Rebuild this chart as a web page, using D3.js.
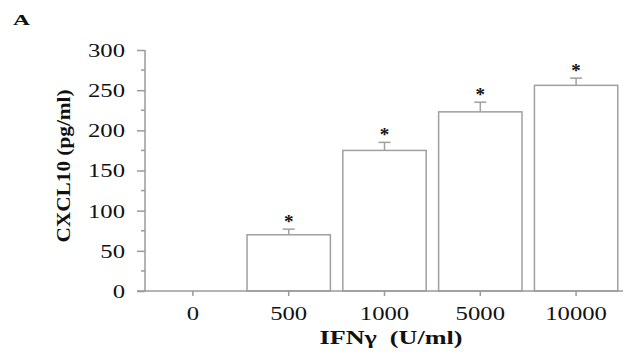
<!DOCTYPE html>
<html>
<head>
<meta charset="utf-8">
<script src="https://cdn.jsdelivr.net/npm/d3@7"></script>
<style>
  body { margin: 0; background: #fff; }
  text { font-family: 'Liberation Serif', 'DejaVu Serif', serif; fill: #111; }
</style>
</head>
<body>
<div id="chart"></div>
<script>
const doses = ['0', '500', '1000', '5000', '10000']
const cxcl10 = [0, 70, 175, 223, 256]
const errorTop = [0, 77, 185, 235, 265]
const significant = [false, true, true, true, true]
const yTicks = [0, 50, 100, 150, 200, 250, 300]

const W = 624
const H = 358
const MARGIN = { left: 145, right: 0, top: 50, bottom: 67 }
const STRETCH = 1.3 // the source figure is stretched sideways

const svg = d3.select('#chart').append('svg')
  .attr('width', W)
  .attr('height', H)

const x = d3.scaleBand()
  .domain(doses)
  .range([MARGIN.left, W - MARGIN.right])
  .paddingInner(0.13)
  .paddingOuter(0.065)

const y = d3.scaleLinear()
  .domain([0, 300])
  .range([H - MARGIN.bottom, MARGIN.top])

const axisColor = '#9a9a9a'

// Panel letter
svg.append('text')
  .attr('x', 13).attr('y', 25)
  .attr('font-size', 15).attr('font-weight', 'bold')
  .attr('textLength', 17).attr('lengthAdjust', 'spacingAndGlyphs')
  .text('A')

// Bars
svg.selectAll('rect.bar')
  .data(doses)
  .join('rect')
  .attr('class', 'bar')
  .attr('x', d => x(d))
  .attr('width', x.bandwidth())
  .attr('y', (d, i) => y(cxcl10[i]))
  .attr('height', (d, i) => y(0) - y(cxcl10[i]))
  .attr('fill', '#fff')
  .attr('stroke', '#a0a0a0')
  .attr('stroke-width', 1.5)

// Error bars (upper only)
const err = svg.selectAll('g.err')
  .data(doses.filter((d, i) => cxcl10[i] > 0))
  .join('g')
  .attr('class', 'err')
  .attr('stroke', '#a0a0a0')
  .attr('stroke-width', 1.5)
err.append('line')
  .attr('x1', d => x(d) + x.bandwidth() / 2)
  .attr('x2', d => x(d) + x.bandwidth() / 2)
  .attr('y1', d => y(cxcl10[doses.indexOf(d)]))
  .attr('y2', d => y(errorTop[doses.indexOf(d)]))
err.append('line')
  .attr('x1', d => x(d) + x.bandwidth() / 2 - 6)
  .attr('x2', d => x(d) + x.bandwidth() / 2 + 6)
  .attr('y1', d => y(errorTop[doses.indexOf(d)]))
  .attr('y2', d => y(errorTop[doses.indexOf(d)]))

// Asterisks
svg.selectAll('text.star')
  .data(doses.filter((d, i) => significant[i]))
  .join('text')
  .attr('class', 'star')
  .attr('x', d => x(d) + x.bandwidth() / 2)
  .attr('y', d => y(errorTop[doses.indexOf(d)]) - 1)
  .attr('text-anchor', 'middle')
  .attr('font-size', 19)
  .attr('font-weight', 'bold')
  .text('*')

// Y axis
const yAxis = svg.append('g')
  .attr('transform', `translate(${MARGIN.left},0)`)
  .call(d3.axisLeft(y).tickValues(yTicks).tickSize(8).tickPadding(12))
yAxis.select('.domain').attr('stroke', axisColor).attr('stroke-width', 1.5)
  .attr('d', `M0,${y(300)}V${y(0)}`)
yAxis.selectAll('.tick line').attr('stroke', axisColor).attr('stroke-width', 1.5)
yAxis.selectAll('.tick text')
  .attr('font-size', 19)
  .attr('font-family', "'Liberation Serif', serif")
  .attr('fill', '#111')
  .attr('transform', `scale(${STRETCH},1)`)
  .attr('x', -20 / STRETCH)
  .attr('dy', '0.34em')

// minor ticks
svg.append('g')
  .selectAll('line')
  .data(d3.range(25, 300, 50))
  .join('line')
  .attr('x1', MARGIN.left - 4)
  .attr('x2', MARGIN.left)
  .attr('y1', d => y(d))
  .attr('y2', d => y(d))
  .attr('stroke', axisColor)
  .attr('stroke-width', 1.5)

// X axis
const xAxis = svg.append('g')
  .attr('transform', `translate(0,${y(0)})`)
  .call(d3.axisBottom(x).tickSize(5).tickPadding(11))
xAxis.select('.domain').attr('stroke', axisColor).attr('stroke-width', 1.5)
  .attr('d', `M${MARGIN.left - 8},0H${W - 1}`)
xAxis.selectAll('.tick line').attr('stroke', axisColor).attr('stroke-width', 1.5)
xAxis.selectAll('.tick text')
  .attr('font-size', 19)
  .attr('font-family', "'Liberation Serif', serif")
  .attr('fill', '#111')
  .attr('transform', `scale(${STRETCH},1)`)
  .attr('dy', '0.71em')

// Axis titles
svg.append('text')
  .attr('transform', 'translate(70,166) rotate(-90)')
  .attr('text-anchor', 'middle')
  .attr('font-size', 18)
  .attr('font-weight', 'bold')
  .attr('textLength', 153).attr('lengthAdjust', 'spacingAndGlyphs')
  .text('CXCL10 (pg/ml)')

svg.append('text')
  .attr('x', 391).attr('y', 344)
  .attr('text-anchor', 'middle')
  .attr('font-size', 18)
  .attr('font-weight', 'bold')
  .attr('xml:space', 'preserve')
  .attr('textLength', 143).attr('lengthAdjust', 'spacingAndGlyphs')
  .text('IFNγ  (U/ml)')
</script>
</body>
</html>
